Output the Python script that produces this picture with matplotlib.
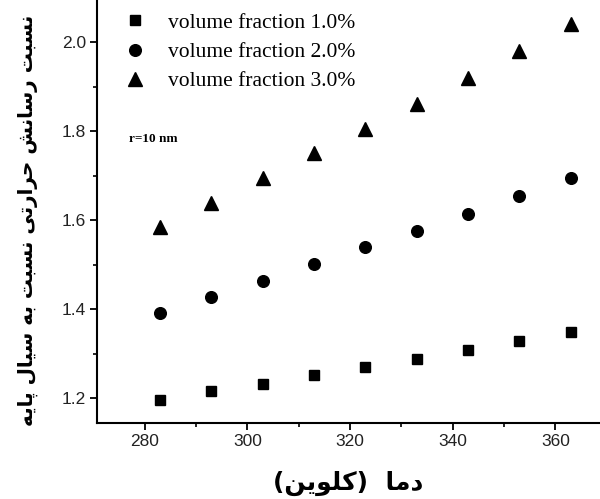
import matplotlib
matplotlib.use("Agg")
import matplotlib.pyplot as plt
from matplotlib.ticker import MultipleLocator

# ---------------- data ----------------
temperature = [283, 293, 303, 313, 323, 333, 343, 353, 363]
vf_1 = [1.196, 1.215, 1.232, 1.251, 1.271, 1.288, 1.309, 1.329, 1.348]
vf_2 = [1.391, 1.427, 1.463, 1.501, 1.539, 1.575, 1.615, 1.655, 1.694]
vf_3 = [1.584, 1.638, 1.694, 1.750, 1.804, 1.862, 1.920, 1.980, 2.040]
series_labels = ["volume fraction 1.0%", "volume fraction 2.0%", "volume fraction 3.0%"]
x_ticks = [280, 300, 320, 340, 360]
y_ticks = [1.2, 1.4, 1.6, 1.8, 2.0]
xlabel_fa = "دما  (کلوین)"
ylabel_fa = "نسبت رسانش حرارتی نسبت به سیال پایه"
note_text = "r=10 nm"

# ---------------- simple Persian shaping ----------------
FORMS = {
    # char: (isolated, final, initial, medial) ; None for right-joining only
    "\u0627": ("\uFE8D", "\uFE8E", None, None),
    "\u0628": ("\uFE8F", "\uFE90", "\uFE91", "\uFE92"),
    "\u067E": ("\uFB56", "\uFB57", "\uFB58", "\uFB59"),
    "\u062A": ("\uFE95", "\uFE96", "\uFE97", "\uFE98"),
    "\u062D": ("\uFEA1", "\uFEA2", "\uFEA3", "\uFEA4"),
    "\u062F": ("\uFEA9", "\uFEAA", None, None),
    "\u0631": ("\uFEAD", "\uFEAE", None, None),
    "\u0633": ("\uFEB1", "\uFEB2", "\uFEB3", "\uFEB4"),
    "\u0634": ("\uFEB5", "\uFEB6", "\uFEB7", "\uFEB8"),
    "\u0644": ("\uFEDD", "\uFEDE", "\uFEDF", "\uFEE0"),
    "\u0645": ("\uFEE1", "\uFEE2", "\uFEE3", "\uFEE4"),
    "\u0646": ("\uFEE5", "\uFEE6", "\uFEE7", "\uFEE8"),
    "\u0647": ("\uFEE9", "\uFEEA", "\uFEEB", "\uFEEC"),
    "\u0648": ("\uFEED", "\uFEEE", None, None),
    "\u06CC": ("\uFBFC", "\uFBFD", "\uFBFE", "\uFBFF"),
    "\u06A9": ("\uFB8E", "\uFB8F", "\uFB90", "\uFB91"),
}


def dual(c):
    return c in FORMS and FORMS[c][2] is not None


def shape_rtl(text):
    out = []
    n = len(text)
    for i, c in enumerate(text):
        if c not in FORMS:
            out.append(c)
            continue
        prev_join = i > 0 and dual(text[i - 1])
        next_join = dual(c) and i + 1 < n and text[i + 1] in FORMS
        iso, fin, ini, med = FORMS[c]
        if prev_join and next_join:
            out.append(med)
        elif prev_join:
            out.append(fin)
        elif next_join:
            out.append(ini)
        else:
            out.append(iso)
    mirror = {"(": ")", ")": "("}
    return "".join(mirror.get(ch, ch) for ch in reversed(out))


# ---------------- figure ----------------
fig = plt.figure(figsize=(6.0, 4.99), dpi=100)
ax = fig.add_axes([97 / 600, 76 / 499, 503 / 600, 423 / 499])

ax.plot(temperature, vf_1, linestyle="none", marker="s", markersize=6.8,
        color="black", label=series_labels[0])
ax.plot(temperature, vf_2, linestyle="none", marker="o", markersize=8.4,
        color="black", label=series_labels[1])
ax.plot(temperature, vf_3, linestyle="none", marker="^", markersize=9.5,
        color="black", label=series_labels[2])

ax.set_xlim(270.7, 368.7)
ax.set_ylim(1.144, 2.095)
ax.set_xticks(x_ticks)
ax.set_yticks(y_ticks)
ax.set_xticklabels([str(v) for v in x_ticks])
ax.set_yticklabels([f"{v:.1f}" for v in y_ticks])
ax.xaxis.set_minor_locator(MultipleLocator(10))
ax.yaxis.set_minor_locator(MultipleLocator(0.1))

for side in ("top", "right"):
    ax.spines[side].set_visible(False)
for side in ("left", "bottom"):
    ax.spines[side].set_linewidth(1.5)
    ax.spines[side].set_color("black")

ax.tick_params(axis="both", which="major", direction="out", length=5,
               width=1.3, labelsize=12.5, pad=3, labelcolor="#222222")
ax.tick_params(axis="both", which="minor", direction="out", length=3, width=1.2)
for lab in ax.get_xticklabels() + ax.get_yticklabels():
    lab.set_family("Liberation Sans")

ax.set_xlabel(shape_rtl(xlabel_fa), fontsize=18, fontweight="bold",
              family="DejaVu Sans", labelpad=16)
ax.set_ylabel(shape_rtl(ylabel_fa), fontsize=14.4, fontweight="bold",
              family="DejaVu Sans")
ax.yaxis.set_label_coords(-0.117, 0.478)

leg = ax.legend(loc="upper left", bbox_to_anchor=(0.025, 1.005), frameon=False,
                prop={"family": "Liberation Serif", "size": 15.5},
                handlelength=1.0, handletextpad=1.0, labelspacing=0.42,
                borderpad=0.2)

ax.text(0.064, 0.672, note_text, transform=ax.transAxes, fontsize=9.5,
        family="Liberation Serif", fontweight="bold", va="center", ha="left")

fig.savefig("out.png", dpi=100, facecolor="white")
